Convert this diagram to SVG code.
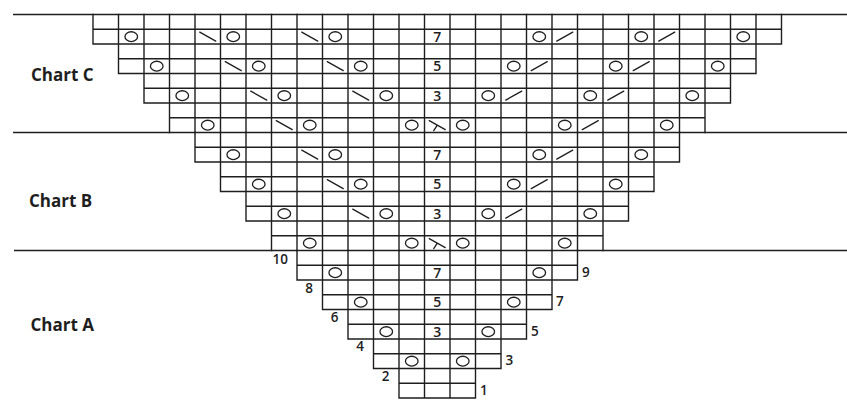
<svg xmlns="http://www.w3.org/2000/svg" width="847" height="400" viewBox="0 0 847 400">
<style>
.grid{fill:none;stroke:#1e1e1e;stroke-width:1.4;stroke-linecap:square}
.sep{fill:none;stroke:#1e1e1e;stroke-width:1.5}
.sym{fill:none;stroke:#1e1e1e;stroke-width:1.3;stroke-linecap:round}
.num{font-family:"Open Sans","Liberation Sans",sans-serif;font-size:14px;font-weight:600;fill:#1e1e1e;text-anchor:middle}
.rl{font-family:"Open Sans","Liberation Sans",sans-serif;font-size:13.5px;font-weight:600;fill:#1e1e1e}
.rle{font-family:"Open Sans","Liberation Sans",sans-serif;font-size:13.5px;font-weight:600;fill:#1e1e1e;text-anchor:end}
.title{font-family:"Open Sans","Liberation Sans",sans-serif;font-size:17px;font-weight:700;fill:#1e1e1e}
</style>
<defs>
<ellipse id="o" class="sym" cx="0" cy="0" rx="6.3" ry="4.9"/>
<path id="ssk" class="sym" d="M-8,-4.5 L8,4.5"/>
<path id="k2t" class="sym" d="M-8,4.5 L8,-4.5"/>
<path id="sk2p" class="sym" d="M-8,-4.5 L8,4.5 M0,0 L-3.5,5.5"/>
</defs>
<rect width="847" height="400" fill="#fff"/>
<g id="separators">
<path class="sep" d="M13,14.5 H847 M13,132.5 H847 M14,250.5 H847"/>
</g>
<g id="chart-c">
<path class="grid" d="M93,14.5 V44 M781.5,14.5 V44 M118.5,14.5 V73.5 M756,14.5 V73.5 M144,14.5 V103 M730.5,14.5 V103
M169.5,14.5 V132.5 M195,14.5 V132.5 M220.5,14.5 V132.5 M246,14.5 V132.5 M271.5,14.5 V132.5 M297,14.5 V132.5 M322.5,14.5 V132.5 M348,14.5 V132.5 M373.5,14.5 V132.5 M399,14.5 V132.5 M424.5,14.5 V132.5 M450,14.5 V132.5 M475.5,14.5 V132.5 M501,14.5 V132.5 M526.5,14.5 V132.5 M552,14.5 V132.5 M577.5,14.5 V132.5 M603,14.5 V132.5 M628.5,14.5 V132.5 M654,14.5 V132.5 M679.5,14.5 V132.5 M705,14.5 V132.5
M93,29.25 H781.5 M93,44 H781.5 M118.5,58.75 H756 M118.5,73.5 H756 M144,88.25 H730.5 M144,103 H730.5 M169.5,117.75 H705"/>
<text class="title" x="31" y="81">Chart C</text>
<use href="#o" x="131.25" y="36.625"/><use href="#ssk" x="207.75" y="36.625"/><use href="#o" x="233.25" y="36.625"/><use href="#ssk" x="309.75" y="36.625"/><use href="#o" x="335.25" y="36.625"/>
<text class="num" x="437.25" y="41.5">7</text>
<use href="#o" x="539.25" y="36.625"/><use href="#k2t" x="564.75" y="36.625"/><use href="#o" x="641.25" y="36.625"/><use href="#k2t" x="666.75" y="36.625"/><use href="#o" x="743.25" y="36.625"/>
<use href="#o" x="156.75" y="66.125"/><use href="#ssk" x="233.25" y="66.125"/><use href="#o" x="258.75" y="66.125"/><use href="#ssk" x="335.25" y="66.125"/><use href="#o" x="360.75" y="66.125"/>
<text class="num" x="437.25" y="71">5</text>
<use href="#o" x="513.75" y="66.125"/><use href="#k2t" x="539.25" y="66.125"/><use href="#o" x="615.75" y="66.125"/><use href="#k2t" x="641.25" y="66.125"/><use href="#o" x="717.75" y="66.125"/>
<use href="#o" x="182.25" y="95.625"/><use href="#ssk" x="258.75" y="95.625"/><use href="#o" x="284.25" y="95.625"/><use href="#ssk" x="360.75" y="95.625"/><use href="#o" x="386.25" y="95.625"/>
<text class="num" x="437.25" y="100.5">3</text>
<use href="#o" x="488.25" y="95.625"/><use href="#k2t" x="513.75" y="95.625"/><use href="#o" x="590.25" y="95.625"/><use href="#k2t" x="615.75" y="95.625"/><use href="#o" x="692.25" y="95.625"/>
<use href="#o" x="207.75" y="125.125"/><use href="#ssk" x="284.25" y="125.125"/><use href="#o" x="309.75" y="125.125"/><use href="#o" x="411.75" y="125.125"/><use href="#sk2p" x="437.25" y="125.125"/><use href="#o" x="462.75" y="125.125"/><use href="#o" x="564.75" y="125.125"/><use href="#k2t" x="590.25" y="125.125"/><use href="#o" x="666.75" y="125.125"/>
</g>
<g id="chart-b">
<path class="grid" d="M195,132.5 V162 M679.5,132.5 V162 M220.5,132.5 V191.5 M654,132.5 V191.5 M246,132.5 V221 M628.5,132.5 V221
M271.5,132.5 V250.5 M297,132.5 V250.5 M322.5,132.5 V250.5 M348,132.5 V250.5 M373.5,132.5 V250.5 M399,132.5 V250.5 M424.5,132.5 V250.5 M450,132.5 V250.5 M475.5,132.5 V250.5 M501,132.5 V250.5 M526.5,132.5 V250.5 M552,132.5 V250.5 M577.5,132.5 V250.5 M603,132.5 V250.5
M195,147.25 H679.5 M195,162 H679.5 M220.5,176.75 H654 M220.5,191.5 H654 M246,206.25 H628.5 M246,221 H628.5 M271.5,235.75 H603"/>
<text class="title" x="29" y="207">Chart B</text>
<use href="#o" x="233.25" y="154.625"/><use href="#ssk" x="309.75" y="154.625"/><use href="#o" x="335.25" y="154.625"/>
<text class="num" x="437.25" y="159.5">7</text>
<use href="#o" x="539.25" y="154.625"/><use href="#k2t" x="564.75" y="154.625"/><use href="#o" x="641.25" y="154.625"/>
<use href="#o" x="258.75" y="184.125"/><use href="#ssk" x="335.25" y="184.125"/><use href="#o" x="360.75" y="184.125"/>
<text class="num" x="437.25" y="189">5</text>
<use href="#o" x="513.75" y="184.125"/><use href="#k2t" x="539.25" y="184.125"/><use href="#o" x="615.75" y="184.125"/>
<use href="#o" x="284.25" y="213.625"/><use href="#ssk" x="360.75" y="213.625"/><use href="#o" x="386.25" y="213.625"/>
<text class="num" x="437.25" y="218.5">3</text>
<use href="#o" x="488.25" y="213.625"/><use href="#k2t" x="513.75" y="213.625"/><use href="#o" x="590.25" y="213.625"/>
<use href="#o" x="309.75" y="243.125"/><use href="#o" x="411.75" y="243.125"/><use href="#sk2p" x="437.25" y="243.125"/><use href="#o" x="462.75" y="243.125"/><use href="#o" x="564.75" y="243.125"/>
</g>
<g id="chart-a">
<path class="grid" d="M297,250.5 V280 M577.5,250.5 V280 M322.5,250.5 V309.5 M552,250.5 V309.5 M348,250.5 V339 M526.5,250.5 V339 M373.5,250.5 V368.5 M501,250.5 V368.5
M399,250.5 V398 M424.5,250.5 V398 M450,250.5 V398 M475.5,250.5 V398
M297,265.25 H577.5 M297,280 H577.5 M322.5,294.75 H552 M322.5,309.5 H552 M348,324.25 H526.5 M348,339 H526.5 M373.5,353.75 H501 M373.5,368.5 H501 M399,383.25 H475.5 M399,398 H475.5"/>
<text class="title" x="30.5" y="331">Chart A</text>
<use href="#o" x="335.25" y="272.625"/><text class="num" x="437.25" y="277.5">7</text><use href="#o" x="539.25" y="272.625"/>
<use href="#o" x="360.75" y="302.125"/><text class="num" x="437.25" y="307">5</text><use href="#o" x="513.75" y="302.125"/>
<use href="#o" x="386.25" y="331.625"/><text class="num" x="437.25" y="336.5">3</text><use href="#o" x="488.25" y="331.625"/>
<use href="#o" x="411.75" y="361.125"/><use href="#o" x="462.75" y="361.125"/>
<text class="rl" x="582" y="276.5">9</text>
<text class="rl" x="556" y="306">7</text>
<text class="rl" x="531" y="335.5">5</text>
<text class="rl" x="505.5" y="365">3</text>
<text class="rl" x="480" y="394.5">1</text>
<text class="rle" x="288" y="263.5">10</text>
<text class="rle" x="313" y="292.5">8</text>
<text class="rle" x="338.5" y="321.5">6</text>
<text class="rle" x="364" y="351">4</text>
<text class="rle" x="389.5" y="381">2</text>
</g>
</svg>
